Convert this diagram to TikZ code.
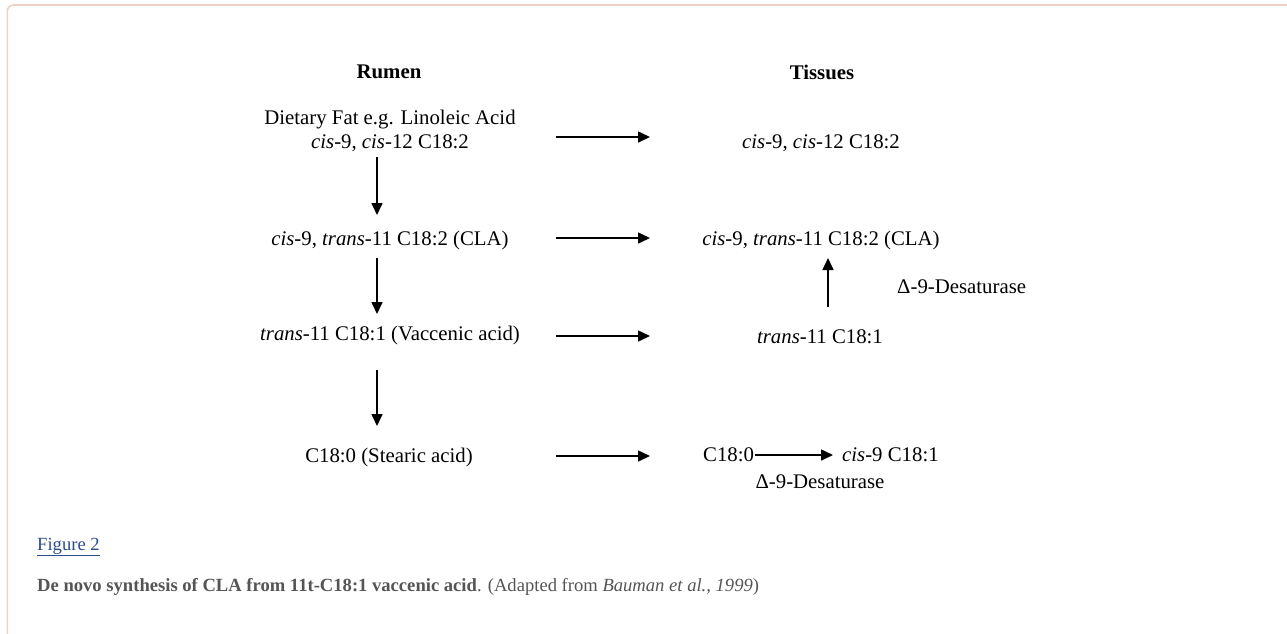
\documentclass[tikz,border=0pt]{standalone}
\usepackage{fontspec}
\setmainfont{Liberation Serif}
\usetikzlibrary{arrows.meta}
\definecolor{framecol}{HTML}{EDD3C4}
\definecolor{capgray}{HTML}{555555}
\definecolor{linkblue}{HTML}{2B4C8C}
\begin{document}
\begin{tikzpicture}[x=1pt,y=-1pt,
  txt/.style={font=\fontsize{20.8}{24}\selectfont, inner sep=0pt, anchor=center, align=center},
  ttl/.style={font=\fontsize{20.8}{24}\selectfont\bfseries, inner sep=0pt, anchor=center},
  captxt/.style={font=\fontsize{18.6}{22}\selectfont, inner sep=0pt, anchor=west},
  arr/.style={-{Triangle[length=12pt,width=11pt]}, line width=1.6pt}]
\useasboundingbox (0,0) rectangle (1287,633);
\fill[white] (0,0) rectangle (1287,633);
\draw[framecol, line width=1.6pt, rounded corners=6pt] (7.3,640) -- (7.3,5) -- (1295,5);

% titles
\node[ttl] (rumen) at (389,72) {Rumen};
\node[ttl] (tissues) at (822,72) {Tissues};

% rumen column
\node[txt] (r1) at (390,131) {Dietary Fat e.g. Linoleic Acid\\\textit{cis}-9, \textit{cis}-12 C18:2};
\node[txt] (r2) at (390,240) {\textit{cis}-9, \textit{trans}-11 C18:2 (CLA)};
\node[txt] (r3) at (390,335) {\textit{trans}-11 C18:1 (Vaccenic acid)};
\node[txt] (r4) at (389,457) {C18:0 (Stearic acid)};

% tissues column
\node[txt] (t1) at (821,143) {\textit{cis}-9, \textit{cis}-12 C18:2};
\node[txt] (t2) at (821,240) {\textit{cis}-9, \textit{trans}-11 C18:2 (CLA)};
\node[txt] (t3) at (820,337) {\textit{trans}-11 C18:1};
\node[txt, anchor=west] (t4a) at (703,455) {C18:0};
\node[txt, anchor=west] (t4b) at (842,455) {\textit{cis}-9 C18:1};
\node[txt, anchor=west] (d1) at (897,287) {Δ-9-Desaturase};
\node[txt] (d2) at (820,482) {Δ-9-Desaturase};

% arrow end points
\coordinate (h1s) at (556,137); \coordinate (h1e) at (650,137);
\coordinate (h2s) at (556,238); \coordinate (h2e) at (650,238);
\coordinate (h3s) at (556,336); \coordinate (h3e) at (650,336);
\coordinate (h4s) at (556,456); \coordinate (h4e) at (650,456);
\coordinate (v1s) at (377,157); \coordinate (v1e) at (377,215);
\coordinate (v2s) at (377,258); \coordinate (v2e) at (377,314);
\coordinate (v3s) at (377,370); \coordinate (v3e) at (377,426);
\coordinate (us) at (828,307); \coordinate (ue) at (828,258);

\draw[arr] (h1s) -- (h1e);
\draw[arr] (h2s) -- (h2e);
\draw[arr] (h3s) -- (h3e);
\draw[arr] (h4s) -- (h4e);
\draw[arr] (v1s) -- (v1e);
\draw[arr] (v2s) -- (v2e);
\draw[arr] (v3s) -- (v3e);
\draw[arr] (us) -- (ue);
\draw[arr, shorten <=1pt, shorten >=9pt] (t4a.east) -- (t4b.west);

% caption
\node[captxt, text=linkblue] (fig) at (37,547) {\underline{Figure 2}};
\node[captxt, text=capgray] (cap) at (37,587) {\textbf{De novo synthesis of CLA from 11t-C18:1 vaccenic acid}. (Adapted from \textit{Bauman et al., 1999})};
\end{tikzpicture}
\end{document}
